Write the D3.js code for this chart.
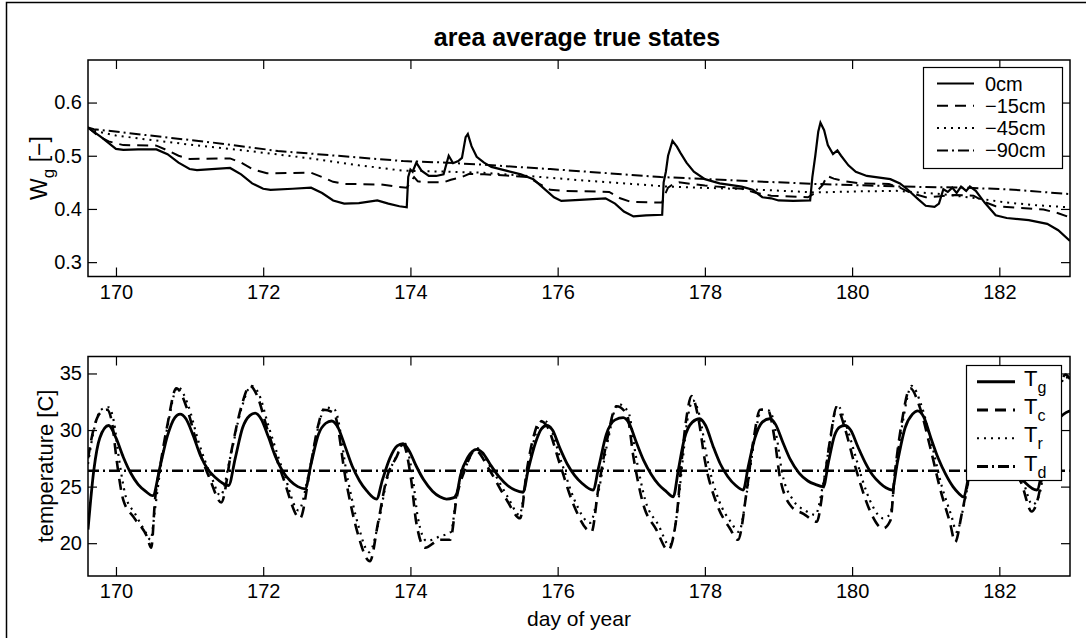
<!DOCTYPE html>
<html>
<head>
<meta charset="utf-8">
<script src="https://cdnjs.cloudflare.com/ajax/libs/d3/7.8.5/d3.min.js"></script>
<style>
    body { margin: 0; background: #fff; }
    text { font-family: "Liberation Sans", Arial, Helvetica, sans-serif; fill: #000; }
</style>
</head>
<body>
<div id="chart"></div>
<script>

// ---- data ----
const dayTicks = [170, 172, 174, 176, 178, 180, 182];
const wgTicks = [0.3, 0.4, 0.5, 0.6];
const tempTicks = [20, 25, 30, 35];
const dayDomain = [169.62, 182.96];
const wgDomain = [0.273, 0.68];
const tempDomain = [17.1, 36.5];

const wgLabels = ["0cm", "\u221215cm", "\u221245cm", "\u221290cm"];
const tempSubs = ["g", "c", "r", "d"];

// soil moisture, [day, value]
const wg0 = [[169.62,0.553],[169.8,0.535],[170.0,0.513],[170.1,0.511],[170.3,0.512],[170.55,0.512],[170.7,0.503],[170.85,0.487],[171.0,0.475],[171.1,0.473],[171.3,0.475],[171.55,0.477],[171.7,0.465],[171.85,0.448],[172.0,0.438],[172.1,0.436],[172.4,0.438],[172.65,0.44],[172.8,0.43],[172.95,0.416],[173.1,0.41],[173.3,0.411],[173.55,0.416],[173.7,0.41],[173.85,0.405],[173.95,0.403],[173.97,0.46],[174.0,0.474],[174.03,0.47],[174.08,0.487],[174.15,0.472],[174.25,0.462],[174.35,0.462],[174.45,0.465],[174.52,0.5],[174.58,0.486],[174.65,0.49],[174.7,0.496],[174.75,0.535],[174.78,0.541],[174.83,0.518],[174.9,0.498],[175.0,0.487],[175.1,0.479],[175.3,0.472],[175.5,0.465],[175.67,0.456],[175.8,0.44],[175.95,0.422],[176.05,0.415],[176.3,0.417],[176.65,0.42],[176.78,0.41],[176.9,0.395],[177.03,0.386],[177.2,0.388],[177.42,0.389],[177.44,0.45],[177.47,0.47],[177.5,0.5],[177.56,0.528],[177.62,0.517],[177.67,0.505],[177.75,0.487],[177.85,0.47],[178.0,0.456],[178.2,0.448],[178.5,0.442],[178.65,0.436],[178.78,0.422],[178.9,0.42],[179.0,0.416],[179.2,0.415],[179.43,0.416],[179.46,0.46],[179.5,0.5],[179.54,0.545],[179.57,0.562],[179.62,0.548],[179.67,0.52],[179.74,0.503],[179.8,0.51],[179.85,0.5],[179.95,0.482],[180.05,0.47],[180.2,0.462],[180.52,0.456],[180.65,0.448],[180.75,0.437],[180.9,0.418],[181.0,0.406],[181.12,0.404],[181.18,0.41],[181.24,0.437],[181.3,0.432],[181.36,0.44],[181.42,0.43],[181.48,0.442],[181.55,0.434],[181.6,0.442],[181.68,0.434],[181.8,0.412],[181.95,0.388],[182.1,0.383],[182.4,0.379],[182.65,0.372],[182.8,0.36],[182.96,0.34]];
const wg15 = [[169.62,0.553],[169.75,0.538],[169.9,0.527],[170.1,0.52],[170.55,0.519],[170.7,0.51],[170.85,0.5],[171.0,0.494],[171.55,0.495],[171.7,0.487],[171.85,0.475],[172.05,0.467],[172.65,0.468],[172.8,0.46],[172.95,0.451],[173.1,0.447],[173.6,0.446],[173.8,0.442],[173.95,0.44],[174.0,0.45],[174.05,0.46],[174.1,0.452],[174.2,0.45],[174.45,0.45],[174.55,0.455],[174.7,0.46],[174.8,0.466],[175.0,0.465],[175.3,0.463],[175.6,0.46],[175.75,0.447],[175.9,0.436],[176.1,0.434],[176.7,0.432],[176.85,0.42],[177.0,0.413],[177.42,0.412],[177.45,0.425],[177.5,0.44],[177.56,0.446],[177.65,0.45],[178.0,0.444],[178.5,0.438],[178.7,0.43],[178.9,0.425],[179.4,0.422],[179.5,0.43],[179.6,0.445],[179.66,0.462],[179.75,0.457],[179.9,0.452],[180.1,0.448],[180.5,0.447],[180.65,0.44],[180.8,0.43],[181.0,0.422],[181.2,0.424],[181.4,0.426],[181.65,0.425],[181.8,0.413],[181.95,0.405],[182.3,0.402],[182.6,0.399],[182.8,0.392],[182.96,0.384]];
const wg45 = [[169.62,0.553],[169.7,0.547],[170.0,0.538],[170.4,0.531],[171.0,0.521],[171.8,0.509],[172.7,0.494],[173.3,0.482],[173.9,0.472],[174.5,0.47],[175.0,0.468],[175.6,0.462],[176.3,0.454],[177.0,0.447],[177.5,0.442],[178.6,0.437],[179.5,0.431],[180.1,0.433],[180.6,0.434],[181.2,0.428],[181.7,0.42],[182.1,0.412],[182.5,0.407],[182.96,0.403]];
const wg90 = [[169.62,0.553],[169.7,0.55],[170.4,0.539],[171.3,0.525],[172.2,0.509],[173.0,0.5],[173.9,0.49],[174.5,0.487],[175.0,0.483],[175.9,0.475],[176.7,0.467],[177.4,0.46],[178.5,0.453],[179.5,0.447],[180.7,0.442],[181.5,0.44],[182.1,0.437],[182.96,0.428]];

// temperatures, [day, degC]
const tg = [[169.62,21.2],[169.7,26.5],[169.78,29.3],[169.9,30.4],[170.0,29.3],[170.1,27.6],[170.2,26.2],[170.3,25.2],[170.4,24.6],[170.5,24.2],[170.6,26.8],[170.7,29.5],[170.8,31.1],[170.87,31.4],[170.95,31.0],[171.05,29.5],[171.15,27.7],[171.25,26.5],[171.35,25.8],[171.45,25.3],[171.53,25.1],[171.62,27.5],[171.72,30.2],[171.82,31.3],[171.89,31.5],[171.97,31.0],[172.07,29.4],[172.17,27.6],[172.27,26.3],[172.37,25.5],[172.47,25.0],[172.57,24.8],[172.65,27.0],[172.75,29.6],[172.85,30.6],[172.93,30.8],[173.01,30.3],[173.11,28.6],[173.21,26.8],[173.31,25.5],[173.41,24.6],[173.54,23.9],[173.62,25.6],[173.72,27.5],[173.82,28.6],[173.9,28.8],[173.98,28.2],[174.08,26.8],[174.18,25.6],[174.3,24.6],[174.4,24.1],[174.49,23.9],[174.58,24.0],[174.63,24.4],[174.68,26.0],[174.78,27.6],[174.9,28.3],[174.98,28.0],[175.08,27.0],[175.2,25.9],[175.32,25.1],[175.42,24.7],[175.53,24.5],[175.6,26.5],[175.7,28.9],[175.78,30.1],[175.85,30.4],[175.93,30.0],[176.03,28.4],[176.13,27.0],[176.23,26.0],[176.33,25.3],[176.48,24.7],[176.56,26.8],[176.66,29.6],[176.78,30.9],[176.89,31.1],[176.97,30.6],[177.07,28.9],[177.17,27.3],[177.27,26.1],[177.37,25.2],[177.47,24.6],[177.57,24.1],[177.64,26.5],[177.72,29.2],[177.83,30.7],[177.93,31.0],[178.01,30.4],[178.11,28.6],[178.21,27.0],[178.31,25.9],[178.42,25.1],[178.52,24.7],[178.59,26.8],[178.68,29.3],[178.78,30.7],[178.88,31.0],[178.96,30.5],[179.06,28.9],[179.16,27.4],[179.28,26.2],[179.4,25.5],[179.5,25.2],[179.61,25.0],[179.68,27.2],[179.76,29.5],[179.84,30.3],[179.9,30.4],[179.98,30.0],[180.08,28.5],[180.18,27.1],[180.28,26.0],[180.38,25.3],[180.46,24.9],[180.54,24.7],[180.62,27.3],[180.72,30.2],[180.82,31.4],[180.89,31.7],[180.97,31.2],[181.07,29.3],[181.17,27.5],[181.27,26.1],[181.37,25.0],[181.45,24.4],[181.51,24.1],[181.6,26.5],[181.7,29.5],[181.8,31.0],[181.88,31.3],[181.96,30.8],[182.06,29.0],[182.16,27.4],[182.26,26.1],[182.36,25.3],[182.51,24.7],[182.6,27.0],[182.7,29.5],[182.8,30.9],[182.96,31.7]];
const tc = [[169.62,27.5],[169.7,30.2],[169.8,31.6],[169.88,31.8],[169.95,30.5],[170.01,27.3],[170.1,23.8],[170.24,22.3],[170.42,20.6],[170.48,19.6],[170.53,23.8],[170.6,26.8],[170.7,30.5],[170.82,33.7],[170.96,32.0],[171.1,28.8],[171.28,25.6],[171.43,23.6],[171.57,28.2],[171.7,32.0],[171.82,33.9],[171.92,33.0],[172.05,30.2],[172.27,25.8],[172.5,22.2],[172.64,26.7],[172.75,30.5],[172.82,31.8],[172.96,31.5],[173.13,25.3],[173.27,21.2],[173.45,18.4],[173.56,21.8],[173.68,25.8],[173.81,27.6],[173.9,28.7],[174.01,25.6],[174.08,21.8],[174.2,19.6],[174.4,20.3],[174.54,20.3],[174.63,24.1],[174.74,26.5],[174.88,28.2],[175.08,26.4],[175.31,23.8],[175.49,22.2],[175.58,26.4],[175.68,29.6],[175.76,30.8],[175.85,30.4],[176.03,27.0],[176.21,23.5],[176.46,21.0],[176.55,24.7],[176.67,29.1],[176.8,32.1],[176.94,31.4],[177.03,27.6],[177.16,23.5],[177.34,21.2],[177.5,19.4],[177.62,22.6],[177.68,27.0],[177.75,31.1],[177.82,33.0],[177.91,31.1],[178.0,27.3],[178.16,23.5],[178.34,21.3],[178.45,20.3],[178.57,24.7],[178.66,29.1],[178.75,31.8],[178.86,31.7],[178.95,29.1],[179.02,25.8],[179.18,23.2],[179.34,22.6],[179.52,21.9],[179.61,25.0],[179.7,29.1],[179.79,32.0],[179.9,30.2],[180.02,27.3],[180.11,25.3],[180.24,22.9],[180.42,21.3],[180.52,22.0],[180.58,26.1],[180.67,30.5],[180.79,33.7],[180.92,32.0],[181.06,28.5],[181.2,24.7],[181.33,21.8],[181.4,20.1],[181.49,22.6],[181.58,25.6],[181.7,30.0],[181.82,33.0],[181.95,31.0],[182.1,27.5],[182.3,25.3],[182.44,22.8],[182.53,24.1],[182.65,29.0],[182.8,33.5],[182.9,34.9],[182.96,34.5]];
const tr = [[169.62,27.0],[169.7,30.0],[169.8,31.8],[169.9,32.0],[169.97,30.8],[170.04,27.5],[170.13,24.2],[170.26,22.6],[170.4,21.0],[170.47,20.3],[170.53,23.0],[170.6,26.4],[170.7,30.3],[170.84,33.8],[170.98,32.2],[171.12,29.0],[171.3,25.8],[171.42,24.2],[171.55,27.5],[171.7,31.8],[171.84,33.9],[171.94,33.2],[172.07,30.4],[172.29,26.0],[172.48,22.9],[172.62,26.2],[172.75,30.3],[172.84,32.0],[172.97,31.8],[173.15,25.6],[173.29,21.6],[173.44,19.2],[173.56,21.6],[173.68,25.6],[173.82,27.8],[173.91,28.9],[174.03,25.9],[174.1,22.3],[174.22,20.2],[174.4,20.6],[174.55,21.0],[174.63,24.4],[174.75,26.7],[174.9,28.4],[175.1,26.6],[175.33,24.0],[175.48,22.5],[175.58,26.0],[175.7,29.6],[175.8,30.9],[175.88,30.5],[176.05,27.2],[176.23,23.8],[176.44,21.8],[176.55,24.4],[176.68,29.0],[176.82,32.3],[176.96,31.6],[177.06,27.8],[177.19,23.8],[177.37,21.6],[177.52,19.8],[177.62,22.5],[177.69,26.8],[177.76,30.8],[177.84,32.6],[177.93,31.2],[178.03,27.5],[178.19,23.8],[178.36,21.8],[178.46,21.0],[178.57,24.5],[178.67,29.0],[178.77,31.8],[178.88,31.7],[178.98,29.2],[179.05,26.2],[179.2,23.8],[179.36,22.9],[179.5,22.5],[179.6,25.0],[179.7,29.0],[179.8,32.2],[179.92,30.4],[180.05,27.6],[180.14,25.6],[180.27,23.4],[180.42,22.2],[180.52,22.6],[180.58,26.0],[180.68,30.4],[180.81,33.9],[180.94,32.2],[181.08,28.8],[181.22,25.0],[181.35,22.4],[181.42,21.0],[181.5,22.8],[181.58,25.4],[181.7,29.8],[181.83,33.2],[181.96,31.2],[182.12,27.7],[182.32,25.5],[182.45,23.4],[182.54,24.2],[182.66,29.0],[182.8,33.3],[182.9,34.7],[182.96,34.3]];
const td = [[169.62,26.4],[182.96,26.4]];

// line styles: solid, dashed, dotted, dash-dot
const dashes = [null, "11,7", "2,5", "11,4,2,4"];

const width = 1086, height = 638;

let svg = d3.select("#chart").append("svg")
    .attr("width", width)
    .attr("height", height);

// outer figure border (scan edge)
svg.append("path")
    .attr("d", "M6.5,638V2.5H1086")
    .attr("fill", "none")
    .attr("stroke", "#000")
    .attr("stroke-width", 1.5);

svg.append("text")
    .attr("x", 577)
    .attr("y", 46)
    .attr("text-anchor", "middle")
    .attr("font-size", 25)
    .attr("font-weight", "bold")
    .text("area average true states");

// builds a boxed panel with inward ticks on all four sides
function makePanel(id, box, yDomain, yTicks, yFormat, labelPad) {
    let x = d3.scaleLinear().domain(dayDomain).range([box.left, box.right]);
    let y = d3.scaleLinear().domain(yDomain).range([box.bottom, box.top]);
    let g = svg.append("g");

    g.append("clipPath").attr("id", id)
        .append("rect")
        .attr("x", box.left).attr("y", box.top)
        .attr("width", box.right - box.left).attr("height", box.bottom - box.top);

    let axes = [
        {gen: d3.axisBottom(x).tickValues(dayTicks).tickFormat(d3.format("d")), t: `translate(0,${box.bottom})`, pad: labelPad},
        {gen: d3.axisTop(x).tickValues(dayTicks).tickFormat(""), t: `translate(0,${box.top})`, pad: 0},
        {gen: d3.axisLeft(y).tickValues(yTicks).tickFormat(yFormat), t: `translate(${box.left},0)`, pad: 6},
        {gen: d3.axisRight(y).tickValues(yTicks).tickFormat(""), t: `translate(${box.right},0)`, pad: 0}
    ];
    axes.forEach(a => {
        let ag = g.append("g")
            .attr("transform", a.t)
            .call(a.gen.tickSizeInner(-9).tickSizeOuter(0).tickPadding(a.pad));
        ag.select(".domain").remove();
        ag.selectAll("line").attr("stroke", "#000").attr("stroke-width", 1.2);
        ag.selectAll("text")
            .attr("font-size", 20)
            .attr("font-family", "'Liberation Sans', Arial, sans-serif")
            .attr("fill", "#000");
    });

    g.append("rect")
        .attr("x", box.left).attr("y", box.top)
        .attr("width", box.right - box.left).attr("height", box.bottom - box.top)
        .attr("fill", "none")
        .attr("stroke", "#000")
        .attr("stroke-width", 1.5);

    return {g: g, x: x, y: y};
}

function drawSeries(panel, id, data, dash, sw, curve) {
    let line = d3.line()
        .x(d => panel.x(d[0]))
        .y(d => panel.y(d[1]))
        .curve(curve);
    panel.g.append("path")
        .datum(data)
        .attr("clip-path", `url(#${id})`)
        .attr("d", line)
        .attr("fill", "none")
        .attr("stroke", "#000")
        .attr("stroke-width", sw)
        .attr("stroke-dasharray", dash);
}

// ---- top panel: soil moisture ----
let wgPanel = makePanel("clipTop", {left: 88, right: 1070, top: 60, bottom: 276.5}, wgDomain, wgTicks, d3.format(".1f"), 8);

[wg0, wg15, wg45, wg90].forEach((s, i) => {
    drawSeries(wgPanel, "clipTop", s, dashes[i], i === 0 ? 2.2 : 2, d3.curveLinear);
});

let wLabel = svg.append("text")
    .attr("transform", "translate(47,168) rotate(-90)")
    .attr("text-anchor", "middle")
    .attr("font-size", 23);
wLabel.append("tspan").text("W");
wLabel.append("tspan").attr("dy", 7).attr("font-size", 17).text("g");
wLabel.append("tspan").attr("dy", -7).text(" [\u2212]");

// legend
let lgTop = svg.append("g");
lgTop.append("rect")
    .attr("x", 923.5).attr("y", 67.5).attr("width", 139).attr("height", 101)
    .attr("fill", "#fff").attr("stroke", "#000").attr("stroke-width", 1.2);
wgLabels.forEach((lab, i) => {
    let yy = 83.5 + i * 22.3;
    lgTop.append("line")
        .attr("x1", 937).attr("x2", 974).attr("y1", yy).attr("y2", yy)
        .attr("stroke", "#000").attr("stroke-width", 2)
        .attr("stroke-dasharray", dashes[i]);
    lgTop.append("text")
        .attr("x", 985).attr("y", yy + 7)
        .attr("font-size", 20)
        .text(lab);
});

// ---- bottom panel: temperatures ----
let tPanel = makePanel("clipBot", {left: 88, right: 1070, top: 356.5, bottom: 576}, tempDomain, tempTicks, d3.format("d"), 8);

drawSeries(tPanel, "clipBot", td, dashes[3], 2.5, d3.curveLinear);
drawSeries(tPanel, "clipBot", tr, dashes[2], 2.2, d3.curveMonotoneX);
drawSeries(tPanel, "clipBot", tc, dashes[1], 2.6, d3.curveMonotoneX);
drawSeries(tPanel, "clipBot", tg, dashes[0], 2.8, d3.curveMonotoneX);

svg.append("text")
    .attr("transform", "translate(53,466) rotate(-90)")
    .attr("text-anchor", "middle")
    .attr("font-size", 22)
    .text("temperature [C]");

svg.append("text")
    .attr("x", 579).attr("y", 626)
    .attr("text-anchor", "middle")
    .attr("font-size", 21)
    .text("day of year");

let lgBot = svg.append("g");
lgBot.append("rect")
    .attr("x", 966.5).attr("y", 365.5).attr("width", 95).attr("height", 115)
    .attr("fill", "#fff").attr("stroke", "#000").attr("stroke-width", 1.2);
tempSubs.forEach((s, i) => {
    let yy = 381.7 + i * 28.3;
    lgBot.append("line")
        .attr("x1", 977).attr("x2", 1015).attr("y1", yy).attr("y2", yy)
        .attr("stroke", "#000").attr("stroke-width", i === 2 ? 2 : 3)
        .attr("stroke-dasharray", dashes[i]);
    let t = lgBot.append("text")
        .attr("x", 1024).attr("y", yy + 4)
        .attr("font-size", 22);
    t.append("tspan").text("T");
    t.append("tspan").attr("dy", 7).attr("font-size", 16).text(s);
});

</script>
</body>
</html>
